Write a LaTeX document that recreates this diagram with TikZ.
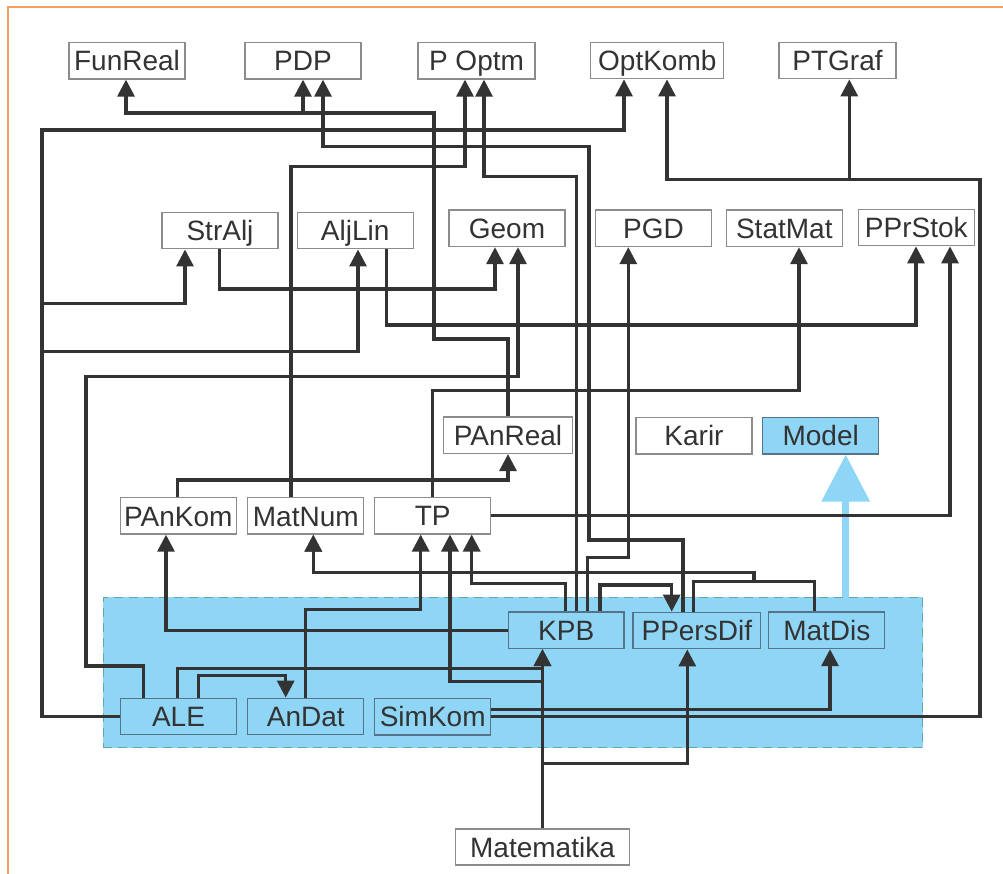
\documentclass[tikz,border=0pt]{standalone}
\usepackage{fontspec}
\setmainfont{Liberation Sans}
\usetikzlibrary{arrows.meta}
\definecolor{linec}{HTML}{333333}
\definecolor{textc}{HTML}{333333}
\definecolor{boxc}{HTML}{8C8C8C}
\definecolor{zboxc}{HTML}{557488}
\definecolor{zonefill}{HTML}{8FD5F6}
\definecolor{zonedash}{HTML}{62A8A0}
\definecolor{framec}{HTML}{F5A060}
\begin{document}
\begin{tikzpicture}[x=1pt,y=-1pt,
  box/.style={draw=boxc, line width=1.3pt, fill=white, inner sep=0pt, text=textc,
    font=\fontsize{28}{30}\selectfont, text height=26pt, text depth=5.5pt,
    minimum height=36.5pt, minimum width=116pt},
  zbox/.style={box, draw=zboxc, fill=none},
  conn/.style={draw=linec, line width=3.2pt, line join=miter},
  arr/.style={conn, -{Triangle[width=17pt,length=17pt]}},
  zonestyle/.style={fill=zonefill, draw=zonedash, line width=1.5pt, dash pattern=on 9pt off 6pt, inner sep=0pt},
  modelarr/.style={draw=zonefill, line width=7pt, -{Triangle[width=47pt,length=47pt]}}
]
\useasboundingbox (0,0) rectangle (1003,874);
\draw[framec, line width=1.5pt] (8,874) -- (8,7) -- (1003,7);

% zone
\node[zonestyle, minimum width=819.4pt, minimum height=150.4pt] (zone) at (513,672.5) {};

% top row
\node[box] (FunReal) at (127,60.75) {FunReal};
\node[box] (PDP) at (303,60.75) {PDP};
\node[box, minimum width=117pt] (POptm) at (476.5,60.75) {P Optm};
\node[box, minimum width=133pt] (OptKomb) at (657.3,60.5) {OptKomb};
\node[box, minimum width=117pt] (PTGraf) at (837.5,60.5) {PTGraf};
% second row
\node[box] (StrAlj) at (220,230.6) {StrAlj};
\node[box] (AljLin) at (355.2,230.6) {AljLin};
\node[box] (Geom) at (507,228.3) {Geom};
\node[box] (PGD) at (653.5,228.3) {PGD};
\node[box] (StatMat) at (784.3,228.3) {StatMat};
\node[box] (PPrStok) at (916.3,227.5) {PPrStok};
% third row
\node[box, minimum width=129.4pt] (PAnReal) at (508,435.2) {PAnReal};
\node[box] (Karir) at (694,435.7) {Karir};
\node[box, fill=zonefill, draw=zboxc] (Model) at (820.7,435.7) {Model};
% fourth row
\node[box] (PAnKom) at (178.3,515.8) {PAnKom};
\node[box] (MatNum) at (305.8,515.8) {MatNum};
\node[box] (TP) at (432.7,515.6) {TP};
% zone rows
\node[zbox, minimum width=115.7pt] (KPB) at (566.2,630.2) {KPB};
\node[zbox, minimum width=127.7pt] (PPersDif) at (696.8,630.5) {PPersDif};
\node[zbox] (MatDis) at (826.8,630.3) {MatDis};
\node[zbox] (ALE) at (178.5,716.5) {ALE};
\node[zbox] (AnDat) at (305.8,716.5) {AnDat};
\node[zbox] (SimKom) at (432.7,716.6) {SimKom};
% bottom
\node[box, minimum width=173.6pt, minimum height=36pt] (Matematika) at (542.5,847) {Matematika};

% Model arrow
\draw[modelarr] (zone.north-|845.7,0) -- (Model.south-|845.7,0);

% connectors
% PAnReal -> FunReal, PDP
\draw[arr] (PAnReal.north) |- (434,339) |- (126,113) -- (FunReal.south-|126,0);
\draw[arr] (PAnReal.north) |- (434,339) |- (303,113) -- (PDP.south-|303,0);
% ALE -> OptKomb, StrAlj, AljLin
\draw[arr] (ALE.west) -| (42,130) -| (OptKomb.south-|624,0);
\draw[arr] (ALE.west) -| (42,303.3) -| (StrAlj.south-|185,0);
\draw[arr] (ALE.west) -| (42,351.7) -| (AljLin.south-|358,0);
% PPersDif -> PDP
\draw[arr] (PPersDif.north-|683,0) |- (589,540) |- (323,146.5) -- (PDP.south-|323,0);
% MatNum -> P Optm
\draw[arr] (MatNum.north-|291,0) |- (465,166.7) -- (POptm.south-|465,0);
% KPB -> P Optm
\draw[arr] (KPB.north-|576.7,0) |- (484,176.5) -- (POptm.south-|484,0);
% SimKom -> OptKomb, PTGraf
\draw[arr] (SimKom.east|-0,716.5) -| (980,179.3) -| (OptKomb.south-|667,0);
\draw[arr] (SimKom.east|-0,716.5) -| (980,179.3) -| (PTGraf.south-|849.3,0);
% SimKom -> MatDis
\draw[arr] (SimKom.east|-0,709.3) -| (MatDis.south-|830,0);
% StrAlj -> Geom
\draw[arr] (StrAlj.south-|219.3,0) |- (495,289) -- (Geom.south-|495,0);
% ALE -> Geom
\draw[arr] (ALE.north-|143.3,0) |- (86,666) |- (518,376.7) -- (Geom.south-|518,0);
% AljLin -> PPrStok
\draw[arr] (AljLin.south-|386.7,0) |- (916,325) -- (PPrStok.south-|916,0);
% TP -> StatMat
\draw[arr] (TP.north) |- (799,390.7) -- (StatMat.south-|799,0);
% PAnKom -> PAnReal
\draw[arr] (PAnKom.north-|177.7,0) |- (508,480) -- (PAnReal.south);
% TP -> PPrStok
\draw[arr] (TP.east) -| (PPrStok.south-|950,0);
% KPB -> PGD
\draw[arr] (KPB.north-|587.3,0) |- (628.3,557.3) -- (PGD.south-|628.3,0);
% KPB -> TP
\draw[arr] (KPB.north-|565.7,0) |- (471.7,583.3) -- (TP.south-|471.7,0);
% KPB -> PPersDif
\draw[arr] (KPB.north-|600,0) |- (671.7,585) -- (PPersDif.north-|671.7,0);
% AnDat -> TP
\draw[arr] (AnDat.north-|305.7,0) |- (420.7,609.3) -- (TP.south-|420.7,0);
% Matematika -> TP, KPB, PPersDif
\draw[arr] (Matematika.north) |- (450,681.7) -- (TP.south-|450,0);
\draw[arr] (Matematika.north) -- (KPB.south-|542.5,0);
\draw[arr] (Matematika.north) |- (687.3,763.3) -- (PPersDif.south-|687.3,0);
% ALE -> KPB
\draw[arr] (ALE.north-|177.7,0) |- (542.5,668.3) -- (KPB.south-|542.5,0);
% ALE -> AnDat
\draw[arr] (ALE.north-|198.3,0) |- (285.7,675.7) -- (AnDat.north-|285.7,0);
% KPB -> PAnKom
\draw[arr] (KPB.west) -| (PAnKom.south-|166,0);
% PPersDif, MatDis -> MatNum
\draw[arr] (PPersDif.north-|693.3,0) |- (754,581.7) |- (313.3,572.3) -- (MatNum.south-|313.3,0);
\draw[arr] (MatDis.north-|814.3,0) |- (754,581.7) |- (313.3,572.3) -- (MatNum.south-|313.3,0);
\end{tikzpicture}
\end{document}
